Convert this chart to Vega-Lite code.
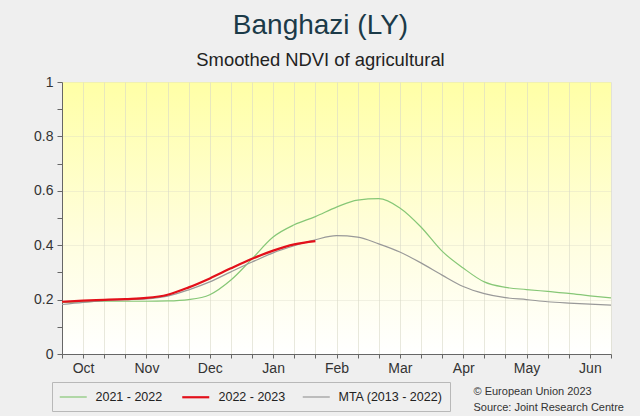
{
  "$schema": "https://vega.github.io/schema/vega-lite/v6.json",
  "width": 549,
  "height": 272,
  "autosize": {"type": "none"},
  "padding": {"left": 62, "top": 82, "right": 29, "bottom": 62},
  "background": "#efefef",
  "title": {
    "text": "Banghazi (LY)",
    "subtitle": "Smoothed NDVI of agricultural",
    "anchor": "middle",
    "dx": -16,
    "offset": 6,
    "font": "Liberation Sans",
    "fontSize": 28,
    "fontWeight": "normal",
    "color": "#1b3a48",
    "subtitleFont": "Liberation Sans",
    "subtitleFontSize": 18.4,
    "subtitleColor": "#222222",
    "subtitlePadding": 11
  },
  "config": {
    "font": "Liberation Sans",
    "view": {
      "stroke": null,
      "fill": {
        "gradient": "linear",
        "x1": 0, "y1": 0, "x2": 0, "y2": 1,
        "stops": [
          {"offset": 0, "color": "#ffffa6"},
          {"offset": 0.6, "color": "#fffee0"},
          {"offset": 1, "color": "#ffffff"}
        ]
      }
    },
    "axis": {
      "domainColor": "#666666",
      "tickColor": "#666666",
      "gridColor": "#d8d8c8",
      "gridOpacity": 0.6,
      "labelFont": "Liberation Sans",
      "labelFontSize": 14,
      "labelColor": "#333333"
    },
    "legend": {
      "orient": "none",
      "legendX": -10,
      "legendY": 300,
      "direction": "horizontal",
      "strokeColor": "#b8b8b8",
      "padding": 7,
      "columnPadding": 14,
      "labelOffset": 21.5,
      "symbolType": "M-1,0H3",
      "symbolSize": 182.25,
      "labelFont": "Liberation Sans",
      "labelFontSize": 12.5,
      "labelColor": "#222222"
    }
  },
  "data": {
    "values": [
      {"dekad": 0, "series": "2021 - 2022", "ndvi": 0.19},
      {"dekad": 1, "series": "2021 - 2022", "ndvi": 0.192},
      {"dekad": 2, "series": "2021 - 2022", "ndvi": 0.194},
      {"dekad": 3, "series": "2021 - 2022", "ndvi": 0.194},
      {"dekad": 4, "series": "2021 - 2022", "ndvi": 0.194},
      {"dekad": 5, "series": "2021 - 2022", "ndvi": 0.195},
      {"dekad": 6, "series": "2021 - 2022", "ndvi": 0.2},
      {"dekad": 7, "series": "2021 - 2022", "ndvi": 0.218},
      {"dekad": 8, "series": "2021 - 2022", "ndvi": 0.272},
      {"dekad": 9, "series": "2021 - 2022", "ndvi": 0.35},
      {"dekad": 10, "series": "2021 - 2022", "ndvi": 0.43},
      {"dekad": 11, "series": "2021 - 2022", "ndvi": 0.475},
      {"dekad": 12, "series": "2021 - 2022", "ndvi": 0.505},
      {"dekad": 13, "series": "2021 - 2022", "ndvi": 0.54},
      {"dekad": 14, "series": "2021 - 2022", "ndvi": 0.566},
      {"dekad": 15, "series": "2021 - 2022", "ndvi": 0.571},
      {"dekad": 16, "series": "2021 - 2022", "ndvi": 0.537},
      {"dekad": 17, "series": "2021 - 2022", "ndvi": 0.467},
      {"dekad": 18, "series": "2021 - 2022", "ndvi": 0.378},
      {"dekad": 19, "series": "2021 - 2022", "ndvi": 0.316},
      {"dekad": 20, "series": "2021 - 2022", "ndvi": 0.265},
      {"dekad": 21, "series": "2021 - 2022", "ndvi": 0.245},
      {"dekad": 22, "series": "2021 - 2022", "ndvi": 0.237},
      {"dekad": 23, "series": "2021 - 2022", "ndvi": 0.23},
      {"dekad": 24, "series": "2021 - 2022", "ndvi": 0.223},
      {"dekad": 25, "series": "2021 - 2022", "ndvi": 0.214},
      {"dekad": 26, "series": "2021 - 2022", "ndvi": 0.206},
      {"dekad": 0, "series": "MTA (2013 - 2022)", "ndvi": 0.182},
      {"dekad": 1, "series": "MTA (2013 - 2022)", "ndvi": 0.19},
      {"dekad": 2, "series": "MTA (2013 - 2022)", "ndvi": 0.196},
      {"dekad": 3, "series": "MTA (2013 - 2022)", "ndvi": 0.2},
      {"dekad": 4, "series": "MTA (2013 - 2022)", "ndvi": 0.203},
      {"dekad": 5, "series": "MTA (2013 - 2022)", "ndvi": 0.213},
      {"dekad": 6, "series": "MTA (2013 - 2022)", "ndvi": 0.236},
      {"dekad": 7, "series": "MTA (2013 - 2022)", "ndvi": 0.265},
      {"dekad": 8, "series": "MTA (2013 - 2022)", "ndvi": 0.302},
      {"dekad": 9, "series": "MTA (2013 - 2022)", "ndvi": 0.338},
      {"dekad": 10, "series": "MTA (2013 - 2022)", "ndvi": 0.372},
      {"dekad": 11, "series": "MTA (2013 - 2022)", "ndvi": 0.398},
      {"dekad": 12, "series": "MTA (2013 - 2022)", "ndvi": 0.42},
      {"dekad": 13, "series": "MTA (2013 - 2022)", "ndvi": 0.435},
      {"dekad": 14, "series": "MTA (2013 - 2022)", "ndvi": 0.43},
      {"dekad": 15, "series": "MTA (2013 - 2022)", "ndvi": 0.405},
      {"dekad": 16, "series": "MTA (2013 - 2022)", "ndvi": 0.375},
      {"dekad": 17, "series": "MTA (2013 - 2022)", "ndvi": 0.335},
      {"dekad": 18, "series": "MTA (2013 - 2022)", "ndvi": 0.29},
      {"dekad": 19, "series": "MTA (2013 - 2022)", "ndvi": 0.248},
      {"dekad": 20, "series": "MTA (2013 - 2022)", "ndvi": 0.222},
      {"dekad": 21, "series": "MTA (2013 - 2022)", "ndvi": 0.207},
      {"dekad": 22, "series": "MTA (2013 - 2022)", "ndvi": 0.2},
      {"dekad": 23, "series": "MTA (2013 - 2022)", "ndvi": 0.192},
      {"dekad": 24, "series": "MTA (2013 - 2022)", "ndvi": 0.187},
      {"dekad": 25, "series": "MTA (2013 - 2022)", "ndvi": 0.183},
      {"dekad": 26, "series": "MTA (2013 - 2022)", "ndvi": 0.18},
      {"dekad": 0, "series": "2022 - 2023", "ndvi": 0.192},
      {"dekad": 1, "series": "2022 - 2023", "ndvi": 0.196},
      {"dekad": 2, "series": "2022 - 2023", "ndvi": 0.199},
      {"dekad": 3, "series": "2022 - 2023", "ndvi": 0.202},
      {"dekad": 4, "series": "2022 - 2023", "ndvi": 0.206},
      {"dekad": 5, "series": "2022 - 2023", "ndvi": 0.218},
      {"dekad": 6, "series": "2022 - 2023", "ndvi": 0.245},
      {"dekad": 7, "series": "2022 - 2023", "ndvi": 0.278},
      {"dekad": 8, "series": "2022 - 2023", "ndvi": 0.315},
      {"dekad": 9, "series": "2022 - 2023", "ndvi": 0.35},
      {"dekad": 10, "series": "2022 - 2023", "ndvi": 0.38},
      {"dekad": 11, "series": "2022 - 2023", "ndvi": 0.403},
      {"dekad": 12, "series": "2022 - 2023", "ndvi": 0.415}
    ]
  },
  "mark": {"type": "line", "interpolate": "monotone", "clip": true},
  "encoding": {
    "x": {
      "field": "dekad",
      "type": "quantitative",
      "scale": {"domain": [0, 26], "nice": false, "zero": false},
      "axis": {
        "values": [0,1,2,3,4,5,6,7,8,9,10,11,12,13,14,15,16,17,18,19,20,21,22,23,24,25,26],
        "labelExpr": "datum.value % 3 == 1 ? ['Oct','Nov','Dec','Jan','Feb','Mar','Apr','May','Jun'][(datum.value - 1) / 3] : ''",
        "tickSize": 4,
        "labelPadding": 3,
        "labelFlush": false,
        "labelOverlap": false,
        "grid": true,
        "title": ["© European Union 2023", "Source: Joint Research Centre"],
        "titleX": 411,
        "titleY": 31,
        "titleAlign": "left",
        "titleBaseline": "top",
        "titleLineHeight": 16,
        "titleFontSize": 11,
        "titleFontWeight": "normal",
        "titleColor": "#333333",
        "titleFont": "Liberation Sans"
      }
    },
    "y": {
      "field": "ndvi",
      "type": "quantitative",
      "scale": {"domain": [0, 1], "nice": false},
      "axis": {
        "values": [0,0.1,0.2,0.3,0.4,0.5,0.6,0.7,0.8,0.9,1],
        "labelExpr": "round(datum.value * 10) % 2 == 0 ? toString(round(datum.value * 10) / 10) : ''",
        "tickSize": 5,
        "labelPadding": 4,
        "labelFlush": false,
        "labelOverlap": false,
        "grid": true,
        "gridOpacity": {"condition": {"test": "round(datum.value * 10) % 2 == 0 && datum.value > 0", "value": 0.6}, "value": 0},
        "title": null
      }
    },
    "color": {
      "field": "series",
      "type": "nominal",
      "title": null,
      "scale": {
        "domain": ["2021 - 2022", "2022 - 2023", "MTA (2013 - 2022)"],
        "range": ["#86c776", "#e3101a", "#999999"]
      }
    },
    "strokeWidth": {
      "field": "series",
      "type": "nominal",
      "title": null,
      "scale": {
        "type": "ordinal",
        "domain": ["2021 - 2022", "2022 - 2023", "MTA (2013 - 2022)"],
        "range": [1.2, 2.2, 1.2]
      }
    }
  }
}
